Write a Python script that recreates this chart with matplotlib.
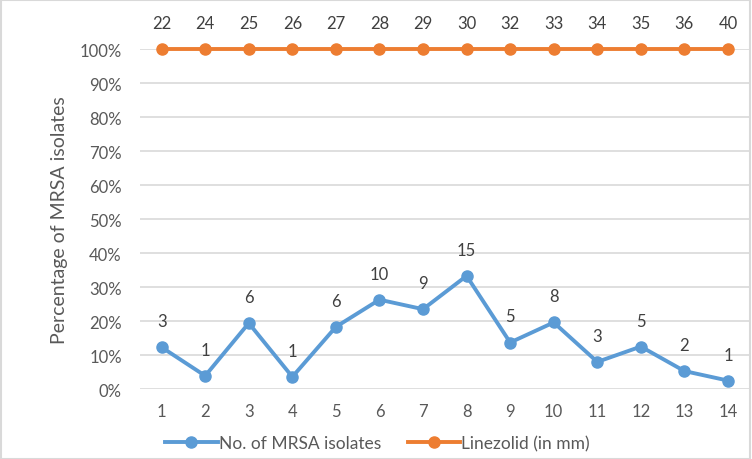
import matplotlib.pyplot as plt
from matplotlib.ticker import PercentFormatter

# datos
x_pos = list(range(1, 15))
pct_mrsa = [12.3, 3.9, 19.4, 3.6, 18.3, 26.3, 23.5, 33.3, 13.7, 19.6, 8.0, 12.5, 5.3, 2.5]
n_mrsa = [3, 1, 6, 1, 6, 10, 9, 15, 5, 8, 3, 5, 2, 1]
pct_linezolid = [100] * 14
zona_mm = [22, 24, 25, 26, 27, 28, 29, 30, 32, 33, 34, 35, 36, 40]

azul = '#5B9BD5'
naranja = '#ED7D31'
gris = '#595959'

plt.rcParams['font.family'] = ['Lato', 'DejaVu Sans']

fig = plt.figure(figsize=(7.52, 4.60), dpi=100)
ax = fig.add_axes([0.186, 0.152, 0.811, 0.739])

ax.plot(x_pos, pct_mrsa, color=azul, lw=2.8, marker='o', ms=8,
        label='No. of MRSA isolates', clip_on=False, zorder=3)
ax.plot(x_pos, pct_linezolid, color=naranja, lw=2.8, marker='o', ms=8,
        label='Linezolid (in mm)', clip_on=False, zorder=3)

# etiquetas de datos
for x, y, n in zip(x_pos, pct_mrsa, n_mrsa):
    ax.annotate(str(n), (x, y), xytext=(0, 13), textcoords='offset points',
                ha='center', va='bottom', fontsize=12, color='#404040')
for x, y, n in zip(x_pos, pct_linezolid, zona_mm):
    ax.annotate(str(n), (x, y), xytext=(0, 13), textcoords='offset points',
                ha='center', va='bottom', fontsize=12, color='#404040',
                annotation_clip=False)

ax.set_xlim(0.5, 14.5)
ax.set_ylim(0, 100)
ax.set_yticks(range(0, 101, 10))
ax.yaxis.set_major_formatter(PercentFormatter(decimals=0))
ax.set_xticks(x_pos)
ax.grid(axis='y', color='#d9d9d9', lw=1.2)
ax.set_axisbelow(True)
for s in ax.spines.values():
    s.set_visible(False)
ax.tick_params(length=0, labelsize=12, colors=gris, pad=10)
ax.tick_params(axis='y', pad=13)

ax.set_ylabel('Percentage of MRSA isolates', fontsize=14, color=gris, labelpad=8)

ax.legend(loc='upper center', bbox_to_anchor=(0.39, -0.09), ncol=2, frameon=False,
          fontsize=12.5, labelcolor=gris, handlelength=3, handletextpad=0.1,
          columnspacing=1.5)

# borde exterior
fig.patches.append(plt.Rectangle((0.001, 0.001), 0.997, 0.997, transform=fig.transFigure,
                                 fill=False, edgecolor='#d9d9d9', lw=1.5))

fig.savefig('out.png', dpi=100)
